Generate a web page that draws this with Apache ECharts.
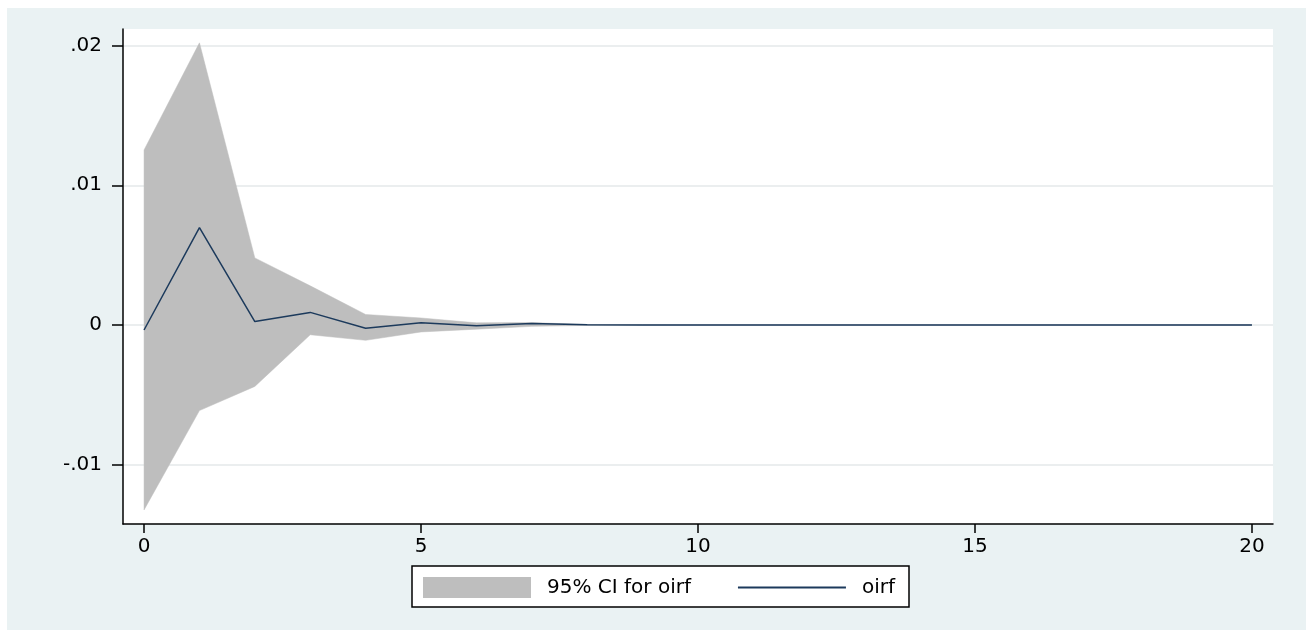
<!DOCTYPE html>
<html>
<head>
<meta charset="utf-8">
<script src="https://cdn.jsdelivr.net/npm/echarts@6/dist/echarts.min.js"></script>
<style>
  html, body { margin: 0; padding: 0; background: #fff; }
  #chart { position: absolute; left: 7px; top: 8px; width: 1299px; height: 622px; }
</style>
</head>
<body>
<div id="chart"></div>
<script>
// horizon (steps) and impulse response with 95% band
const steps = [0, 1, 2, 3, 4, 5, 6, 7, 8, 9, 10, 11, 12, 13, 14, 15, 16, 17, 18, 19, 20]
const oirf = [-0.00036, 0.00697, 0.00024, 0.0009, -0.00024, 0.00015, -0.00005, 0.0001, 0.00001, 0, 0, 0, 0, 0, 0, 0, 0, 0, 0, 0, 0]
const ciUpper = [0.01253, 0.0202, 0.0048, 0.0028, 0.00075, 0.0005, 0.00015, 0.00017, 0.00003, 0.00001, 0, 0, 0, 0, 0, 0, 0, 0, 0, 0, 0]
const ciLower = [-0.01324, -0.00613, -0.0044, -0.0007, -0.0011, -0.0005, -0.0003, -0.0001, -0.00003, -0.00001, 0, 0, 0, 0, 0, 0, 0, 0, 0, 0, 0]
const xTicks = [0, 5, 10, 15, 20]
const yTicks = [-0.01, 0, 0.01, 0.02]

const FONT = 'DejaVu Sans'
const BAND = '#bebebe'
const NAVY = '#1c3a5c'

// stata style ".02" / "-.01"
function fmtY(v) {
  if (v === 0) return '0'
  const s = String(Math.abs(v)).replace(/^0/, '')
  return (v < 0 ? '-' : '') + s
}

const oirfData = steps.map((s, i) => [s, oirf[i]])

// band drawn as one polygon: upper edge left->right, lower edge right->left
function renderBand(params, api) {
  if (params.dataIndex !== 0) return
  const pts = []
  for (let i = 0; i < steps.length; i++) pts.push(api.coord([steps[i], ciUpper[i]]))
  for (let i = steps.length - 1; i >= 0; i--) pts.push(api.coord([steps[i], ciLower[i]]))
  return {
    type: 'polygon',
    shape: { points: pts },
    style: { fill: BAND, stroke: BAND, lineWidth: 0.5 }
  }
}

const chart = echarts.init(document.getElementById('chart'))
const option = {
  backgroundColor: '#eaf2f3',
  animation: false,
  grid: {
    left: 116,
    right: 33,
    top: 21,
    bottom: 106,
    show: true,
    backgroundColor: '#ffffff',
    borderWidth: 0
  },
  legend: {
    left: 405,
    top: 558,
    padding: [11, 14, 9, 11],
    itemWidth: 108,
    itemHeight: 21,
    itemGap: 46,
    backgroundColor: '#ffffff',
    borderColor: '#000000',
    borderWidth: 1.5,
    borderRadius: 0,
    textStyle: { fontFamily: FONT, fontSize: 20, color: '#000', padding: [0, 0, 0, 11] },
    data: [
      { name: '95% CI for oirf', icon: 'rect', itemStyle: { color: BAND, borderWidth: 0 } },
      { name: 'oirf', itemStyle: { opacity: 0 } }
    ]
  },
  xAxis: {
    type: 'value',
    min: -0.38,
    max: 20.38,
    axisLine: { show: true, onZero: false, lineStyle: { color: '#000', width: 1.5 } },
    axisTick: { show: true, length: 9, customValues: xTicks, lineStyle: { color: '#000', width: 1.5 } },
    axisLabel: { customValues: xTicks, margin: 13, fontFamily: FONT, fontSize: 20, color: '#000' },
    splitLine: { show: false }
  },
  yAxis: {
    type: 'value',
    min: -0.01425,
    max: 0.02119,
    axisLine: { show: true, onZero: false, lineStyle: { color: '#000', width: 1.5 } },
    axisTick: { show: true, length: 11, customValues: yTicks, lineStyle: { color: '#000', width: 1.5 } },
    axisLabel: { customValues: yTicks, margin: 21, fontFamily: FONT, fontSize: 20, color: '#000', formatter: fmtY },
    splitLine: { show: true, lineStyle: { color: '#e4e8ea', width: 1.5 } }
  },
  series: [
    {
      name: '95% CI for oirf',
      type: 'custom',
      renderItem: renderBand,
      data: steps.map((s, i) => [s, ciUpper[i], ciLower[i]]),
      encode: { x: 0, y: [1, 2] },
      itemStyle: { color: BAND },
      silent: true
    },
    {
      name: 'oirf',
      type: 'line',
      data: oirfData,
      symbol: 'none',
      itemStyle: { color: NAVY },
      lineStyle: { color: NAVY, width: 1.5 }
    }
  ]
}
chart.setOption(option)

window.addEventListener('resize', () => {
  chart?.resize()
})
</script>
</body>
</html>
